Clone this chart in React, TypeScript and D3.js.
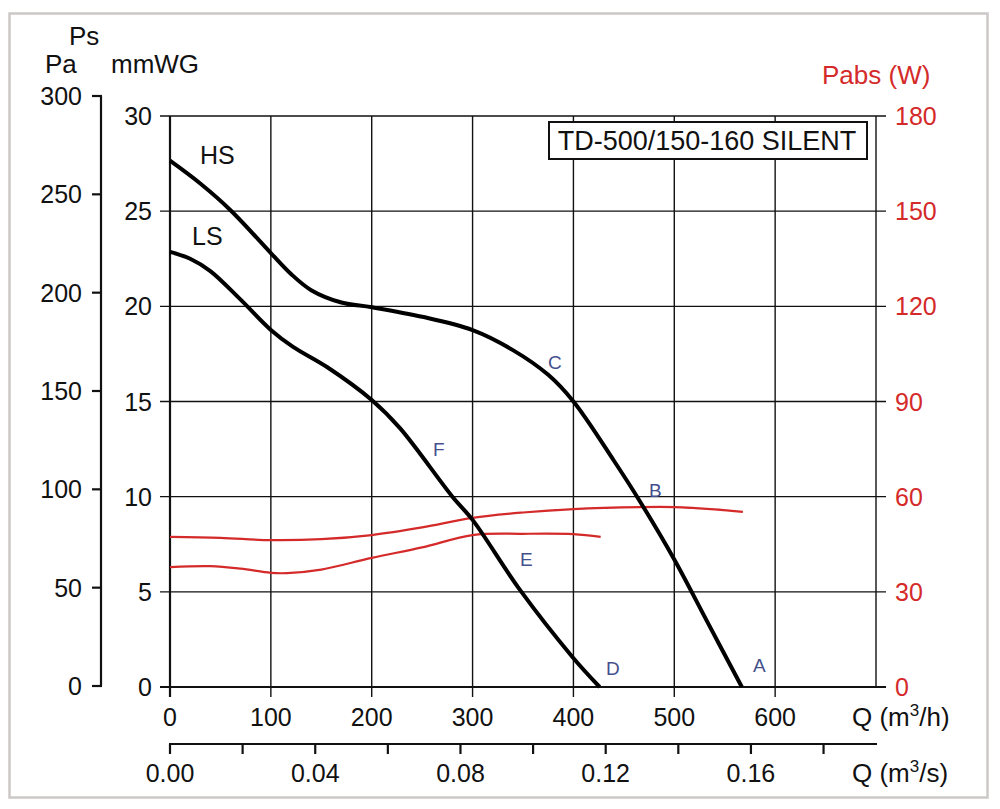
import React from "react";
import * as d3 from "d3";

// ---- data ----
const hsQ = [0, 30, 60, 100, 120, 140, 170, 200, 250, 300, 340, 375, 400, 440, 466, 500, 532, 567];
const hsP = [27.65, 26.45, 25.05, 22.8, 21.7, 20.85, 20.2, 19.95, 19.45, 18.75, 17.7, 16.4, 15.0, 11.9, 9.75, 6.7, 3.5, 0];

const lsQ = [0, 20, 40, 70, 100, 122, 156, 200, 228, 280, 300, 347, 399, 426];
const lsP = [22.86, 22.5, 21.85, 20.35, 18.76, 17.87, 16.8, 15.08, 13.6, 10.0, 8.78, 5.1, 1.58, 0];

const hsWQ = [0, 50, 100, 150, 200, 250, 300, 350, 400, 466, 500, 540, 568];
const hsW = [47.3, 47.0, 46.3, 46.6, 47.9, 50.3, 53.3, 55.0, 56.1, 56.7, 56.7, 56.0, 55.2];

const lsWQ = [0, 40, 70, 100, 116, 150, 200, 250, 300, 350, 400, 427];
const lsW = [37.8, 38.1, 37.3, 36.0, 35.9, 37.0, 40.7, 44.0, 47.9, 48.3, 48.2, 47.3];

const qTicks = [0, 100, 200, 300, 400, 500, 600];
const mmTicks = [0, 5, 10, 15, 20, 25, 30];
const paTicks = [0, 50, 100, 150, 200, 250, 300];
const wTicks = [0, 30, 60, 90, 120, 150, 180];
const qsTicks = [0, 0.02, 0.04, 0.06, 0.08, 0.1, 0.12, 0.14, 0.16, 0.18];
const qsLabels = ["0.00", "0.04", "0.08", "0.12", "0.16"];

const pointLabels = ["C", "B", "A", "D", "E", "F"];
const pointQ = [374.8, 474.9, 578.0, 432.3, 347.0, 260.7];
const pointP = [16.7, 9.98, 0.79, 0.63, 6.36, 12.14];

const curveNames = ["HS", "LS"];
const curveNameQ = [29.7, 21.8];
const curveNameP = [27.5, 23.2];

const title = "TD-500/150-160 SILENT";

const FONT = "'Liberation Sans', Arial, Helvetica, sans-serif";
const RED = "#d42a2a";
const BLUE = "#44508c";

export default function App() {
  const x = d3.scaleLinear().domain([0, 700]).range([170, 876]);
  const y = d3.scaleLinear().domain([0, 30]).range([687, 116]);
  const yPa = d3.scaleLinear().domain([0, 300]).range([686, 96]);
  const yW = d3.scaleLinear().domain([0, 180]).range([687, 116]);
  const xs = d3.scaleLinear().domain([0, 700 / 3600]).range([170, 876]);

  const lineP = d3
    .line<[number, number]>()
    .x((d) => x(d[0]))
    .y((d) => y(d[1]))
    .curve(d3.curveCatmullRom.alpha(0.5));
  const lineW = d3
    .line<[number, number]>()
    .x((d) => x(d[0]))
    .y((d) => yW(d[1]))
    .curve(d3.curveCatmullRom.alpha(0.5));

  const zip = (a: number[], b: number[]) => a.map((v, i) => [v, b[i]] as [number, number]);

  const gridStroke = 1.4;
  const axisStroke = 2.2;
  const NUM = 25;
  const LAB = 26;

  return (
    <svg
      width={1000}
      height={809}
      style={{ position: "absolute", left: 0, top: 0, background: "#fff" }}
      fontFamily={FONT}
    >
      <rect x={0} y={0} width={1000} height={809} fill="#fff" />
      <rect x={9.5} y={13.5} width={978} height={784} fill="none" stroke="#cdc8c8" strokeWidth={2.5} />

      {/* header labels */}
      <text x={69} y={45} fontSize={LAB} fill="#111">Ps</text>
      <text x={45} y={73} fontSize={LAB} fill="#111">Pa</text>
      <text x={111} y={73} fontSize={LAB} fill="#111">mmWG</text>
      <text x={822} y={84} fontSize={LAB} fill={RED}>Pabs (W)</text>

      {/* vertical grid lines */}
      {qTicks.map((q) => (
        <line key={"vg" + q} x1={x(q)} x2={x(q)} y1={y(30)} y2={697} stroke="#111"
          strokeWidth={q === 0 ? axisStroke : gridStroke} />
      ))}
      <line x1={x(700)} x2={x(700)} y1={y(30)} y2={y(0)} stroke="#111" strokeWidth={gridStroke} />

      {/* horizontal grid lines */}
      {mmTicks.map((m) => (
        <line key={"hg" + m} x1={160} x2={886} y1={y(m)} y2={y(m)} stroke="#111"
          strokeWidth={m === 0 ? axisStroke : gridStroke} />
      ))}

      {/* mmWG labels */}
      {mmTicks.map((m) => (
        <text key={"ml" + m} x={152} y={y(m)} dy="0.36em" textAnchor="end" fontSize={NUM} fill="#111">{m}</text>
      ))}

      {/* Pa axis */}
      <line x1={101} x2={101} y1={yPa(300)} y2={yPa(0)} stroke="#111" strokeWidth={axisStroke} />
      {paTicks.map((p) => (
        <g key={"pa" + p}>
          <line x1={92} x2={102} y1={yPa(p)} y2={yPa(p)} stroke="#111" strokeWidth={axisStroke} />
          <text x={82} y={yPa(p)} dy="0.36em" textAnchor="end" fontSize={NUM} fill="#111">{p}</text>
        </g>
      ))}

      {/* W labels */}
      {wTicks.map((w) => (
        <text key={"wl" + w} x={895} y={yW(w)} dy="0.36em" textAnchor="start" fontSize={NUM} fill={RED}>{w}</text>
      ))}

      {/* Q m3/h labels */}
      {qTicks.map((q) => (
        <text key={"ql" + q} x={x(q)} y={726} textAnchor="middle" fontSize={NUM} fill="#111">{q}</text>
      ))}
      <text x={852} y={726} fontSize={LAB} fill="#111">
        Q (m<tspan dy={-10} fontSize={17}>3</tspan><tspan dy={10}>/h)</tspan>
      </text>

      {/* Q m3/s axis */}
      <line x1={xs(0) - 1} x2={877} y1={744} y2={744} stroke="#111" strokeWidth={axisStroke} />
      {qsTicks.map((t) => (
        <line key={"qs" + t} x1={xs(t)} x2={xs(t)} y1={744} y2={754} stroke="#111" strokeWidth={axisStroke} />
      ))}
      {qsLabels.map((l) => (
        <text key={"qsl" + l} x={xs(parseFloat(l))} y={782} textAnchor="middle" fontSize={NUM} fill="#111">{l}</text>
      ))}
      <text x={852} y={782} fontSize={LAB} fill="#111">
        Q (m<tspan dy={-10} fontSize={17}>3</tspan><tspan dy={10}>/s)</tspan>
      </text>

      {/* title box */}
      <rect x={549} y={122} width={318} height={37} fill="#fff" stroke="#111" strokeWidth={2} />
      <text x={707} y={150} textAnchor="middle" fontSize={27} fill="#111">{title}</text>

      {/* power curves */}
      <path d={lineW(zip(hsWQ, hsW)) || ""} fill="none" stroke={RED} strokeWidth={2.2} />
      <path d={lineW(zip(lsWQ, lsW)) || ""} fill="none" stroke={RED} strokeWidth={2.2} />

      {/* pressure curves */}
      <path d={lineP(zip(hsQ, hsP)) || ""} fill="none" stroke="#000" strokeWidth={4} />
      <path d={lineP(zip(lsQ, lsP)) || ""} fill="none" stroke="#000" strokeWidth={4} />

      {/* curve names */}
      {curveNames.map((n, i) => (
        <text key={n} x={x(curveNameQ[i])} y={y(curveNameP[i])} fontSize={NUM} fill="#111">{n}</text>
      ))}

      {/* point letters */}
      {pointLabels.map((l, i) => (
        <text key={l} x={x(pointQ[i])} y={y(pointP[i])} fontSize={19} fill={BLUE}>{l}</text>
      ))}
    </svg>
  );
}
